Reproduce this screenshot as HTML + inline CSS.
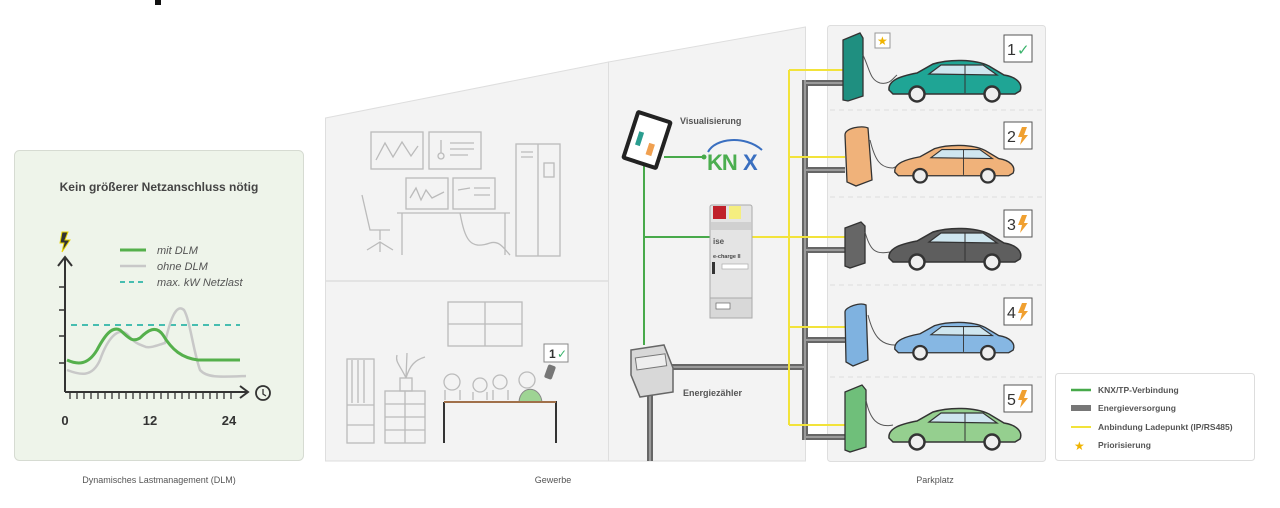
<!DOCTYPE html>
<html><head><meta charset="utf-8"><style>
body{margin:0;background:#fff;width:1280px;height:503px;overflow:hidden;font-family:"Liberation Sans",sans-serif}
svg text{font-family:"Liberation Sans",sans-serif}
</style></head><body>
<svg width="1280" height="503" viewBox="0 0 1280 503" xmlns="http://www.w3.org/2000/svg">
<defs>
<symbol id="car" viewBox="0 0 135 42" overflow="visible">
<path d="M2,30 C1,20 14,16 30,13 L46,4 C62,-1 88,-1 102,6 L117,15 C130,17 136,24 133,31 L128,34 L6,34 Z" stroke="#333" stroke-width="1.5"/>
<path d="M42,14 L54,5 L96,5 L110,15 Z" fill="#cfe6ef" stroke="#333" stroke-width="1.2"/>
<line x1="78" y1="5" x2="78" y2="33" stroke="#333" stroke-width="1"/>
<circle cx="30" cy="34" r="7.5" fill="#eee" stroke="#333" stroke-width="2.5"/>
<circle cx="105" cy="34" r="7.5" fill="#eee" stroke="#333" stroke-width="2.5"/>
</symbol>
</defs>
<rect x="155" y="0" width="6" height="5" fill="#111"/>

<!-- DLM panel -->
<rect x="14.5" y="150.5" width="289" height="310" rx="5" fill="#eef4ea" stroke="#d6dbd2"/>
<text x="159" y="191" font-size="12" font-weight="bold" fill="#444" text-anchor="middle">Kein größerer Netzanschluss nötig</text>
<path d="M62,232 L68,232 L65,240 L70,240 L62,252 L64,243 L60,243 Z" fill="#333" stroke="#e8d400" stroke-width="1"/>
<path d="M65,392 L65,258 M58,266 L65,257 L72,266" fill="none" stroke="#333" stroke-width="2"/>
<path d="M59,287 L65,287 M59,310 L65,310 M59,336 L65,336 M59,363 L65,363" stroke="#333" stroke-width="1.5"/>
<path d="M65,392 L248,392 M240,386 L248,392 L240,398" fill="none" stroke="#333" stroke-width="2"/>
<path d="M70,392 L70,399 M77,392 L77,399 M84,392 L84,399 M91,392 L91,399 M98,392 L98,399 M105,392 L105,399 M112,392 L112,399 M119,392 L119,399 M126,392 L126,399 M133,392 L133,399 M140,392 L140,399 M147,392 L147,399 M154,392 L154,399 M161,392 L161,399 M168,392 L168,399 M175,392 L175,399 M182,392 L182,399 M189,392 L189,399 M196,392 L196,399 M203,392 L203,399 M210,392 L210,399 M217,392 L217,399 M224,392 L224,399 M231,392 L231,399" stroke="#333" stroke-width="1.3"/>
<circle cx="263" cy="393" r="7" fill="none" stroke="#333" stroke-width="1.8"/>
<path d="M263,389 L263,394 L266,396" fill="none" stroke="#333" stroke-width="1.3"/>
<text x="65" y="425" font-size="13" font-weight="bold" fill="#333" text-anchor="middle">0</text>
<text x="150" y="425" font-size="13" font-weight="bold" fill="#333" text-anchor="middle">12</text>
<text x="229" y="425" font-size="13" font-weight="bold" fill="#333" text-anchor="middle">24</text>
<line x1="120" y1="250" x2="146" y2="250" stroke="#55b04c" stroke-width="3"/>
<line x1="120" y1="266" x2="146" y2="266" stroke="#c8c8c8" stroke-width="2.5"/>
<line x1="120" y1="282" x2="146" y2="282" stroke="#2fb5a8" stroke-width="1.8" stroke-dasharray="5,4"/>
<g font-size="11" font-style="italic" fill="#555"><text x="157" y="254">mit DLM</text><text x="157" y="270">ohne DLM</text><text x="157" y="286">max. kW Netzlast</text></g>
<line x1="71" y1="325" x2="240" y2="325" stroke="#2fb5a8" stroke-width="1.8" stroke-dasharray="6,5"/>
<path d="M67,370 C80,375 92,378 100,360 C107,340 118,325 128,335 C136,345 142,345 146,347 C152,348 158,345 165,343 C170,320 176,303 184,310 C190,320 193,350 200,370 C207,378 220,377 246,376" fill="none" stroke="#c8c8c8" stroke-width="2.5"/>
<path d="M67,360 C78,365 88,365 97,350 C105,335 112,326 120,330 C128,337 132,343 140,338 C148,330 156,325 163,335 C172,350 182,358 198,360 L240,360" fill="none" stroke="#55b04c" stroke-width="3"/>
<text x="159" y="483" font-size="9" fill="#555" text-anchor="middle">Dynamisches Lastmanagement (DLM)</text>

<!-- Gewerbe building -->
<path d="M325.5,118 L608.5,62 L608.5,461 L325.5,461 Z" fill="#f3f3f3" stroke="#dedede"/>
<path d="M608.5,62 L805.5,27 L805.5,461 L608.5,461 Z" fill="#f3f3f3" stroke="#dedede"/>
<line x1="326" y1="281" x2="608" y2="281" stroke="#dedede" stroke-width="1.5"/>
<g fill="none" stroke="#bbb" stroke-width="1.3">
<rect x="371" y="132" width="52" height="37"/><path d="M376,160 L385,143 L393,157 L402,142 L411,156 L418,146"/>
<rect x="429" y="132" width="52" height="37"/><circle cx="441" cy="156" r="3"/><path d="M441,140 L441,153 M450,143 L474,143 M450,149 L474,149 M450,155 L468,155"/>
<rect x="406" y="178" width="42" height="31"/><path d="M410,198 L416,188 L421,200 L426,190 L432,198 L444,192"/>
<rect x="453" y="178" width="42" height="31"/><path d="M458,190 L470,188 M474,188 L490,188 M474,195 L490,195"/>
<path d="M397,213 L510,213 M402,213 L402,255 M505,213 L505,255 M460,213 C465,240 470,250 490,243 C500,240 505,250 510,255"/>
<path d="M362,195 L370,230 L390,230 M380,230 L380,240 M367,250 L380,242 L393,250 M380,242 L380,252"/>
<rect x="516" y="144" width="44" height="112"/><path d="M538,144 L538,256 M521,152 L533,152 M521,157 L533,157"/><rect x="544" y="163" width="10" height="14"/>
<rect x="448" y="302" width="74" height="44"/><path d="M485,302 L485,346 M448,324 L522,324"/>
<rect x="347" y="359" width="27" height="84"/><path d="M347,405 L374,405 M347,425 L374,425 M352,360 L352,403 M358,360 L358,403 M364,360 L364,403"/>
<rect x="385" y="391" width="40" height="52"/><path d="M385,404 L425,404 M385,417 L425,417 M385,430 L425,430 M405,391 L405,443"/>
<rect x="400" y="378" width="12" height="13"/><path d="M406,378 C400,365 395,362 397,355 M406,378 C410,365 415,360 425,357 M406,378 L407,353"/>
<circle cx="452" cy="382" r="8"/><circle cx="480" cy="385" r="7"/><circle cx="500" cy="382" r="7"/><circle cx="527" cy="380" r="8"/>
<path d="M445,400 L445,390 M460,400 L460,390 M473,400 L473,392 M487,400 L487,392 M493,400 L493,390 M508,400 L508,390"/>
</g>
<path d="M519,402 C520,385 540,385 542,402 Z" fill="#9ed494" stroke="#888"/>
<rect x="546" y="365" width="8" height="14" rx="2" fill="#777" transform="rotate(20 550 372)"/>
<path d="M444,402 L556,402 L556,443 M444,402 L444,443" fill="none" stroke="#333" stroke-width="2"/>
<line x1="444" y1="402" x2="556" y2="402" stroke="#a0704a" stroke-width="2"/>
<rect x="544" y="344" width="24" height="18" fill="#fff" stroke="#888"/>
<text x="549" y="358" font-size="12" font-weight="bold" fill="#333">1</text><text x="557" y="358" font-size="12" fill="#3bb36c">✓</text>
<text x="553" y="483" font-size="9" fill="#555" text-anchor="middle">Gewerbe</text>

<!-- Parkplatz panel -->
<rect x="827.5" y="25.5" width="218" height="436" rx="3" fill="#f3f3f3" stroke="#dedede"/>
<g stroke="#ddd" stroke-dasharray="5,4"><line x1="830" y1="110" x2="1043" y2="110"/><line x1="830" y1="197" x2="1043" y2="197"/><line x1="830" y1="285" x2="1043" y2="285"/><line x1="830" y1="377" x2="1043" y2="377"/></g>
<text x="935" y="483" font-size="9" fill="#555" text-anchor="middle">Parkplatz</text>

<!-- gray energy -->
<g stroke="#666" stroke-width="6" fill="none">
<path d="M805,80 L805,440"/>
<path d="M805,83 L845,83 M805,170 L845,170 M805,250 L847,250 M805,340 L847,340 M805,437 L847,437"/>
<path d="M670,367 L805,367"/>
<path d="M650,385 L650,461"/>
</g>
<g stroke="#9a9a9a" stroke-width="2" fill="none">
<path d="M805,80 L805,440 M805,83 L845,83 M805,170 L845,170 M805,250 L847,250 M805,340 L847,340 M805,437 L847,437 M670,367 L805,367 M650,385 L650,461"/>
</g>
<!-- yellow -->
<g stroke="#f2e33a" stroke-width="2" fill="none">
<path d="M789,70 L789,425 M789,70 L845,70 M789,157 L845,157 M745,237 L847,237 M789,327 L847,327 M789,425 L847,425"/>
</g>
<!-- green -->
<g stroke="#47a94a" stroke-width="2" fill="none">
<path d="M644,160 L644,345 M644,237 L712,237 M664,157 L704,157"/>
</g>
<circle cx="704" cy="157" r="2.5" fill="#47a94a"/>
<!-- tablet -->
<g transform="rotate(18 647 140)"><rect x="628" y="114" width="38" height="52" rx="3" fill="#222"/><rect x="632" y="118" width="30" height="44" fill="#fff"/>
<rect x="637" y="134" width="5" height="14" fill="#2a9d8f"/><rect x="650" y="142" width="6" height="12" fill="#f0a050"/></g>
<text x="680" y="124" font-size="9" font-weight="bold" fill="#555">Visualisierung</text>
<path d="M708,152 C715,138 745,135 762,150" fill="none" stroke="#3a6fc0" stroke-width="2"/>
<text x="707" y="170" font-size="22" font-weight="bold" fill="#4bae4f" letter-spacing="-1">KN</text><text x="743" y="170" font-size="22" font-weight="bold" fill="#3a6fc0">X</text>
<!-- e-charge device -->
<rect x="710" y="205" width="42" height="113" rx="2" fill="#e4e4e4" stroke="#aaa"/>
<rect x="713" y="206" width="13" height="13" fill="#c0202a"/><rect x="729" y="206" width="12" height="13" fill="#f5ee80"/>
<rect x="711" y="222" width="40" height="8" fill="#d0d0d0"/>
<text x="713" y="244" font-size="8" font-weight="bold" fill="#555">ise</text>
<text x="713" y="258" font-size="5.5" font-weight="bold" fill="#444">e-charge II</text>
<rect x="722" y="264" width="26" height="5" fill="#fff" stroke="#aaa" stroke-width="0.7"/>
<rect x="712" y="262" width="3" height="12" fill="#333"/>
<rect x="710" y="298" width="42" height="20" fill="#d8d8d8" stroke="#aaa"/><rect x="716" y="303" width="14" height="6" fill="#fff" stroke="#666" stroke-width="0.7"/>
<!-- meter -->
<path d="M631,350 L664,345 L673,368 L673,392 L640,397 L631,375 Z" fill="#d8d8d8" stroke="#666" stroke-width="1.5"/>
<rect x="636" y="356" width="30" height="12" fill="#eee" stroke="#777" transform="rotate(-8 650 362)"/>
<text x="683" y="396" font-size="9" font-weight="bold" fill="#555">Energiezähler</text>

<!-- stations -->
<g stroke="#333" stroke-width="1.3">
<path d="M843,40 L860,33 L863,38 L863,96 L848,101 L843,100 Z" fill="#1f8f80"/>
<path d="M845,135 C845,128 862,125 868,128 L872,180 L856,186 L847,182 Z" fill="#f0b27a"/>
<path d="M845,228 L861,222 L865,226 L865,263 L850,268 L845,266 Z" fill="#666"/>
<path d="M845,312 C845,307 860,302 866,305 L868,360 L853,366 L846,362 Z" fill="#7fb2e0"/>
<path d="M845,392 L862,385 L866,390 L866,447 L850,452 L845,450 Z" fill="#6fbf7a"/>
</g>
<g fill="none" stroke="#555" stroke-width="1">
<path d="M863,55 C870,70 870,80 880,83 C890,85 893,78 897,75"/>
<path d="M870,140 C875,160 880,168 893,168 L900,165"/>
<path d="M865,232 C870,250 875,255 890,252"/>
<path d="M868,315 C873,335 880,345 895,345"/>
<path d="M866,400 C870,420 878,428 893,425"/>
</g>
<rect x="875" y="33" width="15" height="15" fill="#fff" stroke="#999"/><text x="877" y="45" font-size="12" fill="#f0b400">★</text>
<!-- cars -->
<use href="#car" x="887" y="60" width="135" height="42" fill="#1fa595"/>
<use href="#car" x="893" y="143" width="122" height="42" fill="#f0b27a"/>
<use href="#car" x="887" y="228" width="135" height="42" fill="#5e5e5e"/>
<use href="#car" x="893" y="320" width="122" height="42" fill="#86b7e3"/>
<use href="#car" x="887" y="408" width="135" height="42" fill="#95cf8f"/>
<!-- badges -->
<g fill="#fff" stroke="#555" stroke-width="1">
<rect x="1004" y="35" width="28" height="27"/><rect x="1004" y="122" width="28" height="27"/><rect x="1004" y="210" width="28" height="27"/><rect x="1004" y="298" width="28" height="27"/><rect x="1004" y="385" width="28" height="27"/>
</g>
<g font-size="16" fill="#333">
<text x="1007" y="55">1</text><text x="1007" y="142">2</text><text x="1007" y="230">3</text><text x="1007" y="318">4</text><text x="1007" y="405">5</text>
</g>
<text x="1017" y="55" font-size="15" fill="#3bb36c">✓</text>
<g fill="#f0a030"><path d="M1022,127 L1027,127 L1024,135 L1028,135 L1020,145 L1022,137 L1018,137 Z"/><path d="M1022,215 L1027,215 L1024,223 L1028,223 L1020,233 L1022,225 L1018,225 Z"/><path d="M1022,303 L1027,303 L1024,311 L1028,311 L1020,321 L1022,313 L1018,313 Z"/><path d="M1022,390 L1027,390 L1024,398 L1028,398 L1020,408 L1022,400 L1018,400 Z"/></g>

<!-- legend -->
<rect x="1055.5" y="373.5" width="199" height="87" rx="3" fill="#fff" stroke="#ddd"/>
<line x1="1071" y1="390" x2="1091" y2="390" stroke="#47a94a" stroke-width="2.5"/>
<rect x="1071" y="405" width="20" height="6" fill="#777"/>
<line x1="1071" y1="427" x2="1091" y2="427" stroke="#f2e33a" stroke-width="2"/>
<text x="1074" y="450" font-size="12" fill="#f0b400">★</text>
<g font-size="8.5" font-weight="bold" fill="#555"><text x="1098" y="393">KNX/TP-Verbindung</text><text x="1098" y="411">Energieversorgung</text><text x="1098" y="430">Anbindung Ladepunkt (IP/RS485)</text><text x="1098" y="448">Priorisierung</text></g>
</svg>
</body></html>
